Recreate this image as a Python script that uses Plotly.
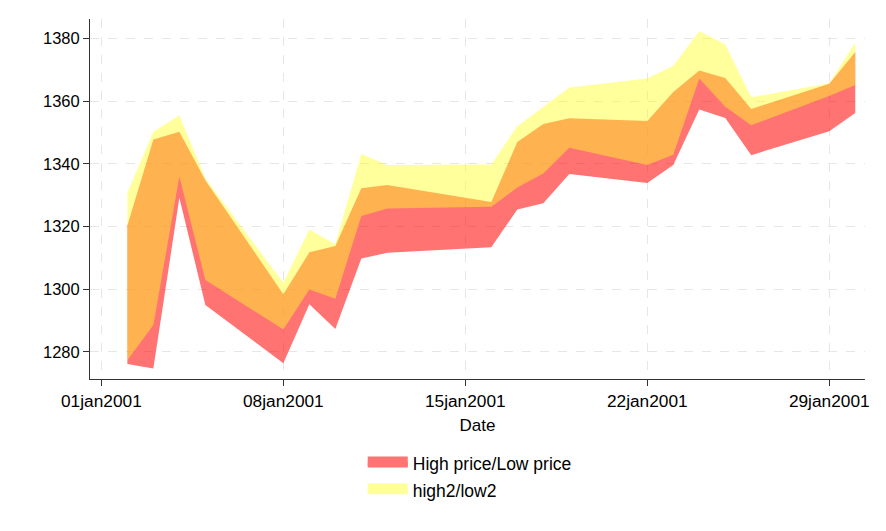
import plotly.graph_objects as go

dates = ["2001-01-02", "2001-01-03", "2001-01-04", "2001-01-05", "2001-01-08",
         "2001-01-09", "2001-01-10", "2001-01-11", "2001-01-12", "2001-01-16",
         "2001-01-17", "2001-01-18", "2001-01-19", "2001-01-22", "2001-01-23",
         "2001-01-24", "2001-01-25", "2001-01-26", "2001-01-29", "2001-01-30"]
high = [1320.28, 1347.76, 1350.24, 1334.77, 1298.35, 1311.72, 1313.76, 1332.19,
        1333.21, 1327.81, 1346.92, 1352.71, 1354.55, 1353.62, 1362.90, 1369.75,
        1367.35, 1357.51, 1365.54, 1375.68]
low = [1276.05, 1274.62, 1329.14, 1294.95, 1276.29, 1295.14, 1287.28, 1309.72,
       1311.59, 1313.33, 1325.41, 1327.41, 1336.74, 1333.84, 1339.63, 1357.28,
       1354.63, 1342.75, 1350.36, 1356.20]
high2 = [1330.7, 1350.2, 1355.5, 1335.3, 1302.0, 1319.0, 1314.3, 1343.1, 1339.6,
         1339.8, 1352.0, 1358.2, 1364.3, 1367.2, 1371.3, 1382.3, 1378.1, 1361.2,
         1365.7, 1378.7]
low2 = [1277.3, 1288.5, 1335.9, 1302.9, 1287.1, 1299.9, 1296.9, 1323.3, 1325.7,
        1326.3, 1332.4, 1336.9, 1345.1, 1339.6, 1342.9, 1367.2, 1358.2, 1352.3,
        1361.6, 1365.1]

x_tickvals = ["2001-01-01", "2001-01-08", "2001-01-15", "2001-01-22", "2001-01-29"]
x_ticktext = ["01jan2001", "08jan2001", "15jan2001", "22jan2001", "29jan2001"]
y_tickvals = [1280, 1300, 1320, 1340, 1360, 1380]

series_names = ["High price/Low price", "high2/low2"]
fill_colors = ["rgba(255,0,0,0.55)", "rgba(255,255,40,0.46)"]
legend_colors = ["rgb(255,115,115)", "rgb(255,255,156)"]
FONT = "Liberation Sans, Arial, sans-serif"


def band(xs, hi, lo, name, color, group):
    return go.Scatter(
        x=list(xs) + list(xs)[::-1],
        y=list(hi) + list(lo)[::-1],
        fill="toself",
        fillcolor=color,
        line=dict(width=0, color=color),
        mode="lines",
        name=name,
        legendgroup=group,
        showlegend=False,
        hoverinfo="skip",
    )


def legend_item(name, color, group):
    return go.Scatter(
        x=[None], y=[None],
        fill="toself", fillcolor=color,
        line=dict(width=10, color=color),
        mode="lines", name=name, legendgroup=group, showlegend=True,
    )


fig = go.Figure()
fig.add_trace(band(dates, high, low, series_names[0], fill_colors[0], "a"))
fig.add_trace(band(dates, high2, low2, series_names[1], fill_colors[1], "b"))
fig.add_trace(legend_item(series_names[0], legend_colors[0], "a"))
fig.add_trace(legend_item(series_names[1], legend_colors[1], "b"))

fig.update_layout(
    width=878, height=523,
    margin=dict(l=82, r=21, t=11, b=152),
    paper_bgcolor="white", plot_bgcolor="white",
    font=dict(family=FONT, size=17, color="black"),
    showlegend=True,
    legend=dict(
        orientation="v", x=0.49, xanchor="center", y=-0.185, yanchor="top",
        font=dict(size=17.5), tracegroupgap=1, itemwidth=40,
    ),
)
fig.update_xaxes(
    type="date",
    range=["2000-12-31 13:30", "2001-01-30 09:00"],
    tickvals=x_tickvals, ticktext=x_ticktext,
    ticks="outside", ticklen=6, tickcolor="#333", tickwidth=1,
    showline=True, linecolor="#333", linewidth=1,
    showgrid=True, gridcolor="#e6e6e6", griddash="dash", gridwidth=1,
    zeroline=False,
    title=dict(text="Date", standoff=9, font=dict(size=17)),
    tickfont=dict(size=17.3),
)
fig.update_yaxes(
    range=[1271.3, 1386.2],
    tickvals=y_tickvals,
    ticks="outside", ticklen=6, tickcolor="#333", tickwidth=1,
    showline=True, linecolor="#333", linewidth=1,
    showgrid=True, gridcolor="#e6e6e6", griddash="dash", gridwidth=1,
    zeroline=False,
    tickfont=dict(size=16.5),
)

fig.write_html("out.html")
